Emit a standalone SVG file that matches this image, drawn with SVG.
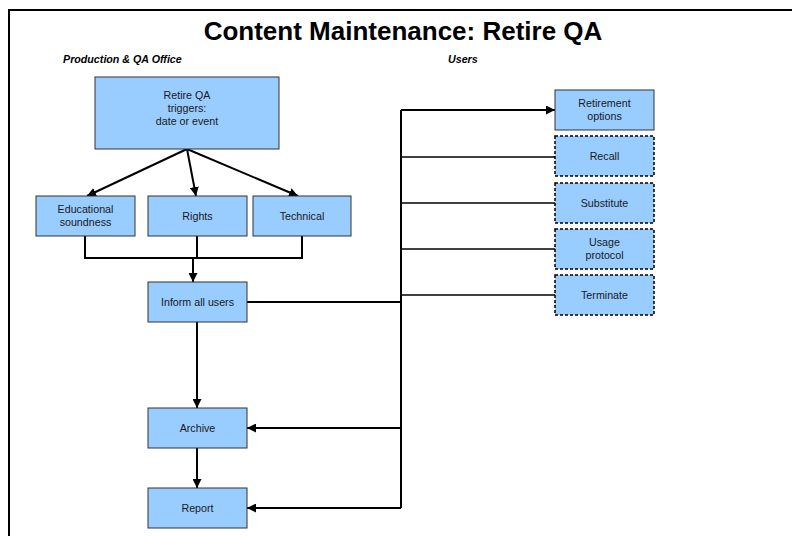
<svg xmlns="http://www.w3.org/2000/svg" width="792" height="536" viewBox="0 0 792 536">
<defs>
<style>
.box{fill:#99CCFF;stroke:#333;stroke-width:1}
.dash{fill:#99CCFF;stroke:#000;stroke-width:1.5;stroke-dasharray:3,2}
.t{font-family:"Liberation Sans",Arial,sans-serif;font-size:10.7px;fill:#1a1a1a;text-anchor:middle}
.hd{font-family:"Liberation Sans",Arial,sans-serif;font-size:10.7px;font-weight:bold;font-style:italic;fill:#000}
.c{fill:none;stroke:#000;stroke-width:2}
.c1{fill:none;stroke:#000;stroke-width:1.6}
</style>
<marker id="ah" viewBox="0 0 10 10" refX="10" refY="5" markerWidth="4.5" markerHeight="4.5" orient="auto" markerUnits="strokeWidth">
<path d="M0,0 L10,5 L0,10 z" fill="#000"/>
</marker>
</defs>
<rect width="792" height="536" fill="#fff"/>
<path d="M9,536 V10 H792" fill="none" stroke="#000" stroke-width="2"/>
<text x="403" y="40" font-family="'Liberation Sans',Arial,sans-serif" font-size="26" font-weight="bold" text-anchor="middle" fill="#000">Content Maintenance: Retire QA</text>
<text class="hd" x="63" y="63">Production &amp; QA Office</text>
<text class="hd" x="448" y="63">Users</text>

<g id="connectors">
<path class="c" marker-end="url(#ah)" d="M187,149 L87,196"/>
<path class="c" marker-end="url(#ah)" d="M187,149 L196,196"/>
<path class="c" marker-end="url(#ah)" d="M187,149 L298,196"/>
<path class="c" d="M85,236 V258 H302 V236"/>
<path class="c" d="M197,236 V258"/>
<path class="c" marker-end="url(#ah)" d="M193,258 V282"/>
<path class="c" d="M247,302 H401"/>
<path class="c" d="M401,110 V508"/>
<path class="c" marker-end="url(#ah)" d="M401,110 H555"/>
<path class="c1" d="M401,157 H555"/>
<path class="c1" d="M401,203 H555"/>
<path class="c1" d="M401,249 H555"/>
<path class="c1" d="M401,295 H555"/>
<path class="c" marker-end="url(#ah)" d="M197,322 V408"/>
<path class="c" marker-end="url(#ah)" d="M401,428 H247"/>
<path class="c" marker-end="url(#ah)" d="M197,448 V488"/>
<path class="c" marker-end="url(#ah)" d="M401,508 H247"/>
</g>

<g id="triggers">
<rect class="box" x="95" y="77" width="184" height="72"/>
<text class="t" x="187" y="99">Retire QA</text>
<text class="t" x="187" y="112">triggers:</text>
<text class="t" x="187" y="125">date or event</text>
</g>
<g id="educational">
<rect class="box" x="36" y="196" width="99" height="40"/>
<text class="t" x="85.5" y="213">Educational</text>
<text class="t" x="85.5" y="226">soundness</text>
</g>
<g id="rights">
<rect class="box" x="148" y="196" width="99" height="40"/>
<text class="t" x="197.5" y="220">Rights</text>
</g>
<g id="technical">
<rect class="box" x="253" y="196" width="98" height="40"/>
<text class="t" x="302" y="220">Technical</text>
</g>
<g id="inform">
<rect class="box" x="148" y="282" width="99" height="40"/>
<text class="t" x="197.5" y="306">Inform all users</text>
</g>
<g id="archive">
<rect class="box" x="148" y="408" width="99" height="40"/>
<text class="t" x="197.5" y="432">Archive</text>
</g>
<g id="report">
<rect class="box" x="148" y="488" width="99" height="40"/>
<text class="t" x="197.5" y="512">Report</text>
</g>
<g id="retirement-options">
<rect class="box" x="555" y="90" width="99" height="40"/>
<text class="t" x="604.5" y="107">Retirement</text>
<text class="t" x="604.5" y="120">options</text>
</g>
<g id="recall">
<rect class="dash" x="555" y="136" width="99" height="40"/>
<text class="t" x="604.5" y="160">Recall</text>
</g>
<g id="substitute">
<rect class="dash" x="555" y="183" width="99" height="40"/>
<text class="t" x="604.5" y="207">Substitute</text>
</g>
<g id="usage-protocol">
<rect class="dash" x="555" y="229" width="99" height="40"/>
<text class="t" x="604.5" y="246">Usage</text>
<text class="t" x="604.5" y="259">protocol</text>
</g>
<g id="terminate">
<rect class="dash" x="555" y="275" width="99" height="40"/>
<text class="t" x="604.5" y="299">Terminate</text>
</g>
</svg>
